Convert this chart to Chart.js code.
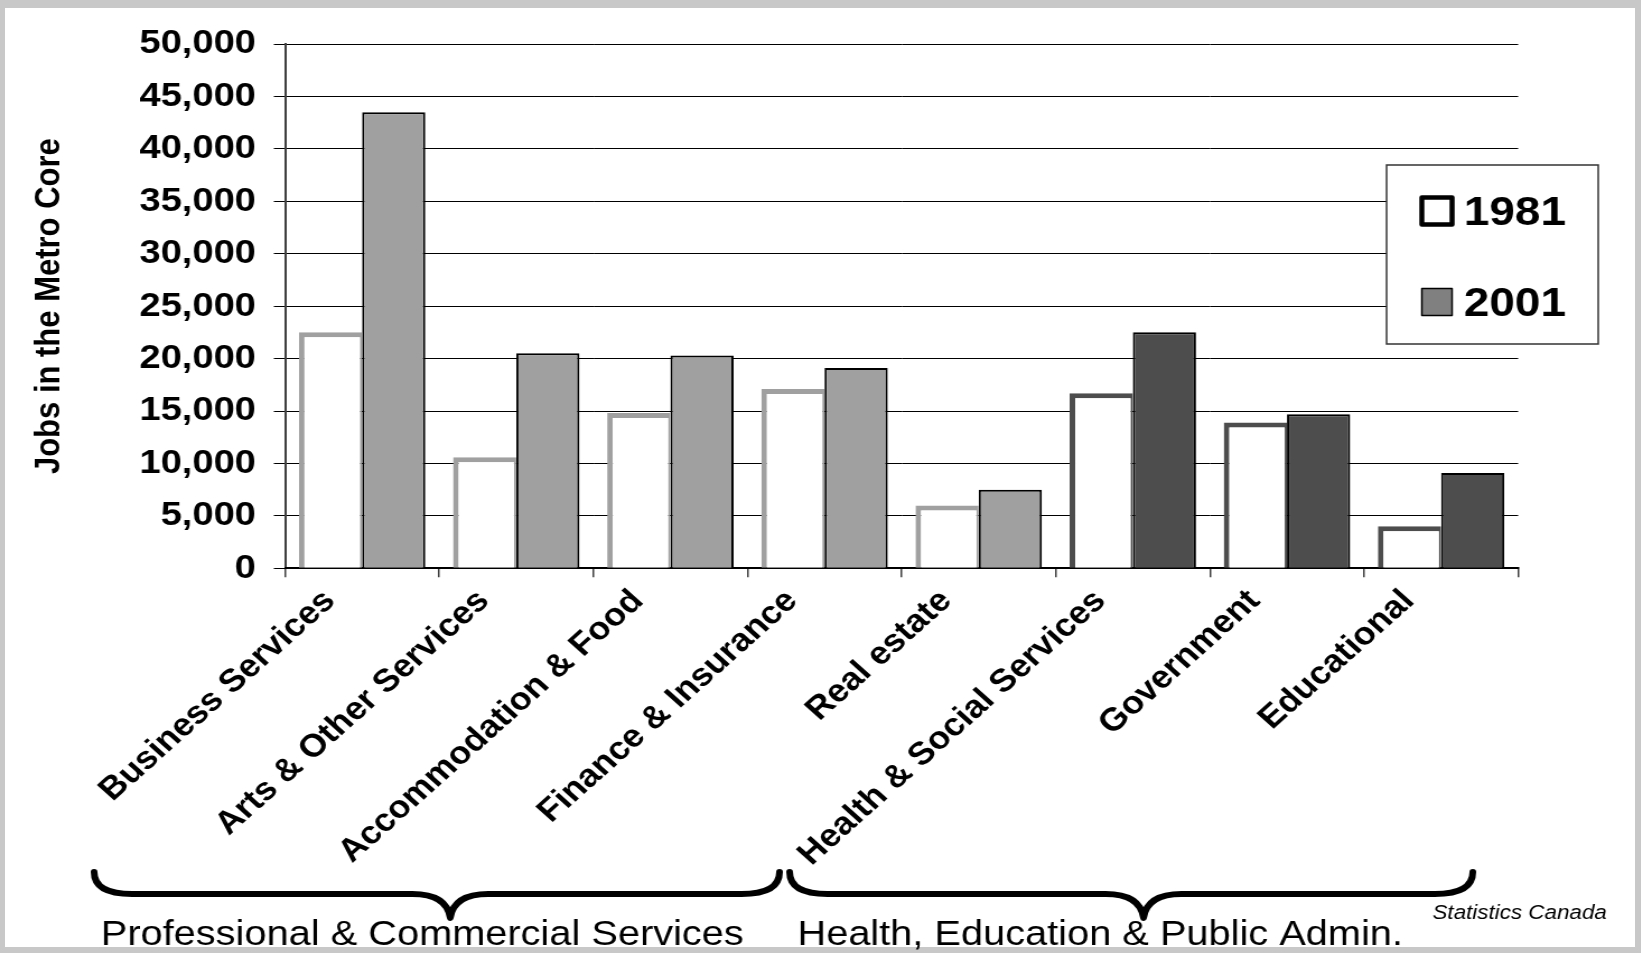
<!DOCTYPE html>
<html>
<head>
<meta charset="utf-8">
<title>Jobs in the Metro Core</title>
<script src="https://cdn.jsdelivr.net/npm/chart.js@4.4.1/dist/chart.umd.min.js"></script>
<style>
    html, body { margin: 0; padding: 0; background: #c8c8c8; overflow: hidden; }
    #frame { position: absolute; left: 5px; top: 8px; width: 1630px; height: 939px; background: #ffffff; }
    /* the source picture is a little wider than tall, so the whole chart is stretched */
    #wrap { position: absolute; left: 0; top: 0; width: 1465px; height: 953px;
            transform: scaleX(1.12); transform-origin: 0 0; }
</style>
</head>
<body>
<div id="frame"></div>
<div id="wrap"><canvas id="jobsChart"></canvas></div>
<script>
// Data
const categories = [
    'Business Services',
    'Arts & Other Services',
    'Accommodation & Food',
    'Finance & Insurance',
    'Real estate',
    'Health & Social Services',
    'Government',
    'Educational'
];
const jobs1981 = [22500, 10600, 14800, 17100, 6000, 16700, 13900, 4000];
const jobs2001 = [43500, 20500, 20300, 19100, 7500, 22500, 14700, 9100];
const yTickValues = [0, 5000, 10000, 15000, 20000, 25000, 30000, 35000, 40000, 45000, 50000];
const groupNames = ['Professional & Commercial Services', 'Health, Education & Public Admin.'];
const sourceNote = 'Statistics Canada';

// Styles
const LIGHT = '#a0a0a0';
const DARK = '#4d4d4d';
const darkFrom = 5;   // bars from this index on are drawn dark
const shade = categories.map((c, i) => i < darkFrom ? LIGHT : DARK);

Chart.defaults.font.family = "'Liberation Sans', Arial, sans-serif";
Chart.defaults.color = '#000';

// Legend box drawn on top of the plot, partly outside it
const boxLegend = {
    id: 'boxLegend',
    afterDraw(chart) {
        const ctx = chart.ctx;
        const box = { left: 1238, top: 165, right: 1427, bottom: 344 };
        const swatches = [
            { fill: '#ffffff', stroke: '#000', lineWidth: 4.5, size: 27 },
            { fill: '#808080', stroke: '#000', lineWidth: 1.5, size: 27 }
        ];
        const rows = [211, 302];
        ctx.save();
        ctx.fillStyle = '#fff';
        ctx.strokeStyle = '#333';
        ctx.lineWidth = 1.5;
        ctx.fillRect(box.left, box.top, box.right - box.left, box.bottom - box.top);
        ctx.strokeRect(box.left, box.top, box.right - box.left, box.bottom - box.top);
        chart.data.datasets.forEach((ds, i) => {
            const s = swatches[i];
            const cx = 1283, cy = rows[i];
            ctx.fillStyle = s.fill;
            ctx.strokeStyle = s.stroke;
            ctx.lineWidth = s.lineWidth;
            ctx.lineJoin = 'round';
            ctx.fillRect(cx - s.size / 2, cy - s.size / 2, s.size, s.size);
            ctx.strokeRect(cx - s.size / 2, cy - s.size / 2, s.size, s.size);
            ctx.fillStyle = '#000';
            ctx.font = "bold 41px 'Liberation Sans', Arial, sans-serif";
            ctx.textAlign = 'left';
            ctx.textBaseline = 'middle';
            ctx.fillText(ds.label, 1307, cy + 3);
        });
        ctx.restore();
    }
};

// Curly braces grouping the categories, with the group names below
function drawBrace(ctx, x0, x1, xc, yTop, yMid, yBot) {
    const r = 34;
    ctx.beginPath();
    ctx.moveTo(x0, yTop);
    ctx.quadraticCurveTo(x0, yMid, x0 + r, yMid);
    ctx.lineTo(xc - r, yMid);
    ctx.quadraticCurveTo(xc - 3, yMid, xc, yBot);
    ctx.quadraticCurveTo(xc + 3, yMid, xc + r, yMid);
    ctx.lineTo(x1 - r, yMid);
    ctx.quadraticCurveTo(x1, yMid, x1, yTop);
    ctx.stroke();
}

const groupBraces = {
    id: 'groupBraces',
    afterDraw(chart) {
        const ctx = chart.ctx;
        const braces = [
            { x0: 84, x1: 696, xc: 402, textX: 90 },
            { x0: 705, x1: 1315, xc: 1021, textX: 712 }
        ];
        ctx.save();
        ctx.strokeStyle = '#000';
        ctx.lineWidth = 6;
        ctx.lineCap = 'round';
        ctx.lineJoin = 'round';
        braces.forEach((b, i) => {
            drawBrace(ctx, b.x0, b.x1, b.xc, 872, 894, 918);
            ctx.fillStyle = '#000';
            ctx.font = "35.5px 'Liberation Sans', Arial, sans-serif";
            ctx.textAlign = 'left';
            ctx.textBaseline = 'alphabetic';
            ctx.fillText(groupNames[i], b.textX, 945);
        });
        ctx.font = "italic 20px 'Liberation Sans', Arial, sans-serif";
        ctx.fillText(sourceNote, 1279, 919);
        ctx.restore();
    }
};

new Chart(document.getElementById('jobsChart').getContext('2d'), {
    type: 'bar',
    data: {
        labels: categories,
        datasets: [
            {
                label: '1981',
                data: jobs1981,
                backgroundColor: '#ffffff',
                borderColor: shade,
                borderWidth: { top: 5, left: 5, right: 2, bottom: 0 },
                borderSkipped: false,
                categoryPercentage: 0.82,
                barPercentage: 1.0
            },
            {
                label: '2001',
                data: jobs2001,
                backgroundColor: shade,
                borderColor: '#000',
                borderWidth: 2,
                categoryPercentage: 0.82,
                barPercentage: 1.0
            }
        ]
    },
    options: {
        responsive: true,
        maintainAspectRatio: false,
        animation: false,
        layout: {
            padding: { left: 22, top: 44, right: 109.5, bottom: 0 }
        },
        plugins: {
            legend: { display: false },
            tooltip: { enabled: false }
        },
        scales: {
            y: {
                min: 0,
                max: 50000,
                afterBuildTicks: function(scale) {
                    scale.ticks = yTickValues.map(v => ({ value: v }));
                },
                afterFit: function(scale) {
                    scale.width = 232.5;
                },
                title: {
                    display: true,
                    text: 'Jobs in the Metro Core',
                    font: { size: 31, weight: 'bold' },
                    padding: { top: 4, bottom: 0 }
                },
                grid: {
                    color: '#000',
                    lineWidth: 1,
                    tickLength: 10
                },
                border: { color: '#404040', width: 2 },
                ticks: {
                    padding: 16,
                    font: { size: 34, weight: 'bold' },
                    callback: function(value) {
                        return value.toLocaleString('en-US');
                    }
                }
            },
            x: {
                afterFit: function(scale) {
                    scale.height = 384.7;
                },
                grid: {
                    offset: true,
                    drawOnChartArea: false,
                    color: '#404040',
                    lineWidth: 1.5,
                    tickLength: 9
                },
                border: { color: '#000', width: 2 },
                ticks: {
                    autoSkip: false,
                    minRotation: 45,
                    maxRotation: 45,
                    labelOffset: -29,
                    padding: 5,
                    font: { size: 32, weight: 'bold' }
                }
            }
        }
    },
    plugins: [boxLegend, groupBraces]
});
</script>
</body>
</html>
